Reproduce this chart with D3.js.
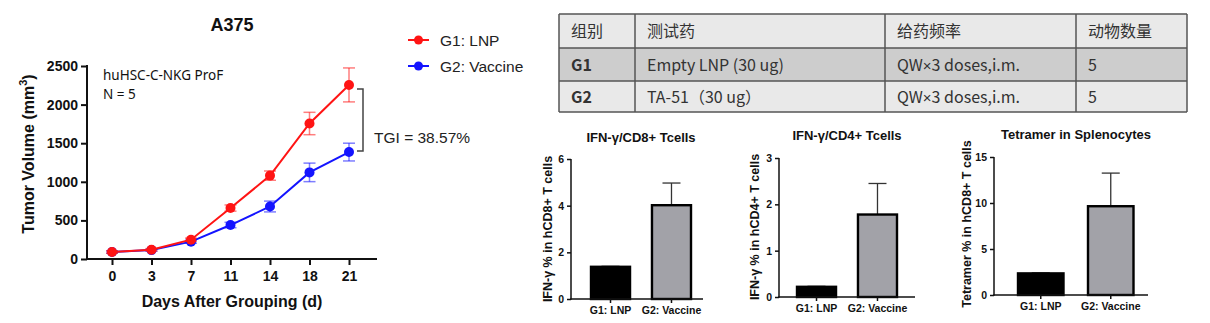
<!DOCTYPE html>
<html>
<head>
<meta charset="utf-8">
<script src="https://cdn.jsdelivr.net/npm/d3@7"></script>
<style>
  html, body { margin: 0; padding: 0; background: #fff; }
  svg { display: block; }
</style>
</head>
<body>
<svg id="chart" width="1210" height="323"></svg>
<script>
// ---------- DATA ----------
const days = ["0", "3", "7", "11", "14", "18", "21"];
const g1Mean = [90, 120, 250, 660, 1080, 1755, 2255];
const g1Err  = [15, 15, 20, 40, 60, 145, 220];
const g2Mean = [90, 115, 225, 440, 680, 1122, 1385];
const g2Err  = [15, 15, 20, 35, 70, 120, 115];
const seriesNames = ["G1: LNP", "G2: Vaccine"];
const yTicksTumor = [0, 500, 1000, 1500, 2000, 2500];
const tgiLabel = "TGI = 38.57%";

const tableHeader = ["组别", "测试药", "给药频率", "动物数量"];
const tableRow1 = ["G1", "Empty LNP (30 ug)", "QW×3 doses,i.m.", "5"];
const tableRow2 = ["G2", "TA-51（30 ug）", "QW×3 doses,i.m.", "5"];

const barGroups = ["G1: LNP", "G2: Vaccine"];
const cd8Values = [1.38, 4.02];
const cd8Errors = [0.02, 0.95];
const cd8Ticks = [0, 2, 4, 6];
const cd4Values = [0.22, 1.78];
const cd4Errors = [0.01, 0.67];
const cd4Ticks = [0, 1, 2, 3];
const tetValues = [2.35, 9.65];
const tetErrors = [0.05, 3.6];
const tetTicks = [0, 5, 10, 15];

// ---------- SETUP ----------
const svg = d3.select("#chart");
svg.append("rect").attr("width", 1210).attr("height", 323).attr("fill", "#fff");
const ARIAL = "'Liberation Sans', Arial, sans-serif";
const fmt = d3.format("d");

// ---------- LINE CHART ----------
const colors = ["#ff1414", "#1414ff"];
const x = d3.scalePoint().domain(days).range([112, 349]);
const y = d3.scaleLinear().domain([0, 2500]).range([259, 66]);
const lc = svg.append("g");

lc.append("text").attr("x", 232).attr("y", 31).attr("text-anchor", "middle")
  .attr("font-family", ARIAL).attr("font-weight", "bold").attr("font-size", 18)
  .attr("fill", "#111").text("A375");

const yAxisG = lc.append("g").attr("transform", "translate(87,0)")
  .call(d3.axisLeft(y).tickValues(yTicksTumor).tickFormat(fmt).tickSize(6).tickPadding(3).tickSizeOuter(0));
const xAxisG = lc.append("g").attr("transform", "translate(0,259)")
  .call(d3.axisBottom(x).tickSize(6).tickPadding(6).tickSizeOuter(0));
[yAxisG, xAxisG].forEach(g => {
  g.selectAll(".domain").attr("stroke", "#111").attr("stroke-width", 2);
  g.selectAll(".tick line").attr("stroke", "#111").attr("stroke-width", 2);
  g.selectAll(".tick text").attr("font-family", ARIAL).attr("font-weight", "bold")
    .attr("font-size", 14).attr("fill", "#111");
});
xAxisG.select(".domain").attr("d", "M86,0H377");
yAxisG.select(".domain").attr("d", "M0,260V65");

lc.append("text").attr("x", 232).attr("y", 307).attr("text-anchor", "middle")
  .attr("font-family", ARIAL).attr("font-weight", "bold").attr("font-size", 16)
  .attr("fill", "#111").text("Days After Grouping (d)");

const yt = lc.append("text").attr("transform", "translate(34,154) rotate(-90)")
  .attr("text-anchor", "middle").attr("font-family", ARIAL).attr("font-weight", "bold")
  .attr("font-size", 16).attr("fill", "#111");
yt.append("tspan").text("Tumor Volume (mm");
yt.append("tspan").attr("font-size", 11).attr("dy", -7).text("3");
yt.append("tspan").attr("dy", 7).text(")");

lc.append("text").attr("x", 103).attr("y", 80).attr("font-family", "'Noto Sans', sans-serif")
  .attr("font-size", 13.5).attr("fill", "#111").text("huHSC-C-NKG ProF");
lc.append("text").attr("x", 103).attr("y", 99).attr("font-family", "'Noto Sans', sans-serif")
  .attr("font-size", 13.5).attr("fill", "#111").text("N = 5");

const series = [
  { name: seriesNames[1], mean: g2Mean, err: g2Err, color: colors[1] },
  { name: seriesNames[0], mean: g1Mean, err: g1Err, color: colors[0] }
];
const line = d3.line().x((d, i) => x(days[i])).y(d => y(d));
series.forEach(s => {
  const g = lc.append("g");
  s.mean.forEach((m, i) => {
    const cx = x(days[i]);
    const e = g.append("g").attr("stroke", s.color).attr("stroke-opacity", 0.55).attr("stroke-width", 1.5);
    e.append("line").attr("x1", cx).attr("x2", cx).attr("y1", y(m - s.err[i])).attr("y2", y(m + s.err[i]));
    e.append("line").attr("x1", cx - 6).attr("x2", cx + 6).attr("y1", y(m - s.err[i])).attr("y2", y(m - s.err[i]));
    e.append("line").attr("x1", cx - 6).attr("x2", cx + 6).attr("y1", y(m + s.err[i])).attr("y2", y(m + s.err[i]));
  });
  g.append("path").datum(s.mean).attr("d", line).attr("fill", "none")
    .attr("stroke", s.color).attr("stroke-width", 2);
  g.selectAll("circle").data(s.mean).join("circle")
    .attr("cx", (d, i) => x(days[i])).attr("cy", d => y(d)).attr("r", 5).attr("fill", s.color);
});

// TGI bracket
const by1 = y(g1Mean[6]) + 4, by2 = y(g2Mean[6]) - 1;
lc.append("path").attr("d", `M357,${by1}H363V${by2}H357`).attr("fill", "none")
  .attr("stroke", "#444").attr("stroke-width", 1.5);
lc.append("text").attr("x", 374).attr("y", 143).attr("font-family", ARIAL)
  .attr("font-size", 15.5).attr("fill", "#222").text(tgiLabel);

// legend
seriesNames.forEach((n, i) => {
  const ly = 40 + i * 26;
  const g = svg.append("g");
  g.append("line").attr("x1", 408).attr("x2", 429).attr("y1", ly).attr("y2", ly)
    .attr("stroke", colors[i]).attr("stroke-width", 2);
  g.append("circle").attr("cx", 418.5).attr("cy", ly).attr("r", 4.5).attr("fill", colors[i]);
  g.append("text").attr("x", 440).attr("y", ly + 5.5).attr("font-family", ARIAL)
    .attr("font-size", 15.5).attr("fill", "#222").text(n);
});

// ---------- TABLE ----------
const colX = [559, 635, 885, 1076, 1187];
const rowY = [14, 48, 81, 112];
const rows = [tableHeader, tableRow1, tableRow2];
const rowFill = ["#e9e9e9", "#cdcdcd", "#e9e9e9"];
const tg = svg.append("g");
rows.forEach((r, ri) => {
  tg.append("rect").attr("x", colX[0]).attr("y", rowY[ri]).attr("width", colX[4] - colX[0])
    .attr("height", rowY[ri + 1] - rowY[ri]).attr("fill", rowFill[ri]);
  r.forEach((c, ci) => {
    const t = tg.append("text").attr("x", colX[ci] + 12).attr("y", (rowY[ri] + rowY[ri + 1]) / 2 + 6)
      .attr("font-family", "'Noto Sans CJK SC', sans-serif").attr("font-size", 16)
      .attr("font-weight", (ri > 0 && ci === 0) ? "bold" : "normal")
      .attr("fill", "#333");
    c.split(/(×)/).forEach(part => {
      if (!part) return;
      const ts = t.append("tspan").text(part);
      if (part === "×") ts.attr("font-family", ARIAL).attr("font-size", 15);
    });
  });
});
rowY.forEach(yy => tg.append("line").attr("x1", colX[0]).attr("x2", colX[4]).attr("y1", yy).attr("y2", yy)
  .attr("stroke", "#555").attr("stroke-width", 1.5));
colX.forEach(xx => tg.append("line").attr("x1", xx).attr("x2", xx).attr("y1", rowY[0]).attr("y2", rowY[3])
  .attr("stroke", "#555").attr("stroke-width", 1.5));

// ---------- BAR CHARTS ----------
function barChart(cfg) {
  const g = svg.append("g");
  const xs = d3.scaleBand().domain(barGroups).range(cfg.bandRange).paddingInner(cfg.padInner).paddingOuter(0);
  const ys = d3.scaleLinear().domain([0, cfg.max]).range([cfg.y0, cfg.yTop]);
  cfg.values.forEach((v, i) => {
    const bx = xs(barGroups[i]), bw = xs.bandwidth(), cx = bx + bw / 2;
    g.append("line").attr("x1", cx).attr("x2", cx).attr("y1", ys(v)).attr("y2", ys(v + cfg.errors[i]))
      .attr("stroke", "#333").attr("stroke-width", 1.3);
    g.append("line").attr("x1", cx - 9).attr("x2", cx + 9).attr("y1", ys(v + cfg.errors[i])).attr("y2", ys(v + cfg.errors[i]))
      .attr("stroke", "#333").attr("stroke-width", 1.3);
    g.append("rect").attr("x", bx).attr("y", ys(v)).attr("width", bw).attr("height", ys(0) - ys(v))
      .attr("fill", i === 0 ? "#000" : "#a2a2a8").attr("stroke", "#000").attr("stroke-width", 2.4);
  });
  const ya = g.append("g").attr("transform", `translate(${cfg.axisX},0)`)
    .call(d3.axisLeft(ys).tickValues(cfg.ticks).tickFormat(fmt).tickSize(4).tickPadding(3).tickSizeOuter(0));
  const xa = g.append("g").attr("transform", `translate(0,${cfg.y0})`)
    .call(d3.axisBottom(xs).tickSize(4).tickPadding(4).tickSizeOuter(0));
  xa.select(".domain").attr("d", `M${cfg.axisX - 0.75},0H${cfg.axisEnd}`);
  ya.select(".domain").attr("d", `M0,${cfg.y0 + 0.75}V${cfg.yTop}`);
  [ya, xa].forEach(a => {
    a.selectAll(".domain").attr("stroke", "#111").attr("stroke-width", 1.5);
    a.selectAll(".tick line").attr("stroke", "#111").attr("stroke-width", 1.5);
    a.selectAll(".tick text").attr("font-family", ARIAL).attr("font-weight", "bold")
      .attr("font-size", 10.5).attr("fill", "#111");
  });
  g.append("text").attr("x", cfg.titleX).attr("y", cfg.titleY).attr("text-anchor", "middle")
    .attr("font-family", ARIAL).attr("font-weight", "bold").attr("font-size", 13).attr("fill", "#111")
    .text(cfg.title);
  g.append("text").attr("transform", `translate(${cfg.yTitleX},${cfg.yTitleY}) rotate(-90)`)
    .attr("text-anchor", "middle").attr("font-family", ARIAL).attr("font-weight", "bold")
    .attr("font-size", 12.5).attr("fill", "#111").text(cfg.yTitle);
}

barChart({ values: cd8Values, errors: cd8Errors, ticks: cd8Ticks, max: 6,
  bandRange: [591, 691], padInner: 0.36, y0: 299, yTop: 159, axisX: 571, axisEnd: 703,
  title: "IFN-γ/CD8+ Tcells", titleX: 641, titleY: 142, yTitle: "IFN-γ % in hCD8+ T cells",
  yTitleX: 552, yTitleY: 229 });
barChart({ values: cd4Values, errors: cd4Errors, ticks: cd4Ticks, max: 3,
  bandRange: [797, 897], padInner: 0.36, y0: 297, yTop: 158, axisX: 779, axisEnd: 915,
  title: "IFN-γ/CD4+ Tcells", titleX: 847, titleY: 140, yTitle: "IFN-γ % in hCD4+ T cells",
  yTitleX: 759, yTitleY: 227 });
barChart({ values: tetValues, errors: tetErrors, ticks: tetTicks, max: 15,
  bandRange: [1018, 1133.5], padInner: 0.35, y0: 295, yTop: 157, axisX: 994, axisEnd: 1148,
  title: "Tetramer in Splenocytes", titleX: 1076, titleY: 139, yTitle: "Tetramer % in hCD8+ T cells",
  yTitleX: 971, yTitleY: 224 });
</script>
</body>
</html>
